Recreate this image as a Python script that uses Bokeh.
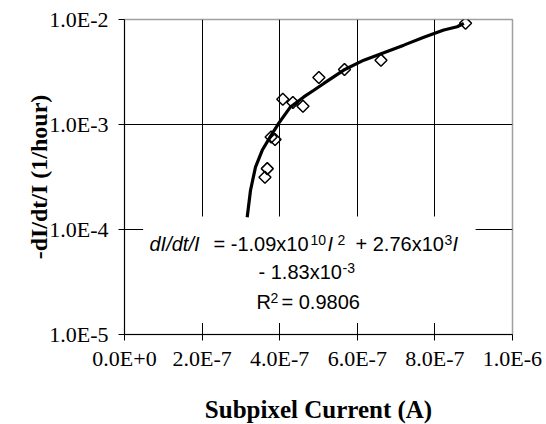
from bokeh.plotting import figure
from bokeh.models import Range1d, FixedTicker, Label
from bokeh.embed import file_html
from bokeh.resources import INLINE

# ---- data ----
x_ticks = [0.0, 2e-7, 4e-7, 6e-7, 8e-7, 1e-6]
x_tick_labels = ["0.0E+0", "2.0E-7", "4.0E-7", "6.0E-7", "8.0E-7", "1.0E-6"]
y_ticks = [1e-5, 1e-4, 1e-3, 1e-2]
y_tick_labels = ["1.0E-5", "1.0E-4", "1.0E-3", "1.0E-2"]

current = [3.62e-7, 3.68e-7, 3.78e-7, 3.88e-7, 4.08e-7, 4.34e-7,
           4.60e-7, 5.01e-7, 5.67e-7, 6.61e-7, 8.79e-7]
rate = [3.15e-4, 3.8e-4, 7.6e-4, 7.2e-4, 1.74e-3, 1.62e-3,
        1.49e-3, 2.8e-3, 3.34e-3, 4.1e-3, 9.2e-3]

fit_current = [3.162e-7, 3.247e-7, 3.376e-7, 3.549e-7, 3.763e-7, 3.977e-7,
               4.278e-7, 4.621e-7, 4.879e-7, 5.137e-7, 5.652e-7, 6.168e-7,
               6.683e-7, 7.199e-7, 7.714e-7, 8.229e-7, 8.575e-7, 8.745e-7]
fit_rate = [1.31e-4, 2.35e-4, 3.93e-4, 5.68e-4, 7.71e-4, 1.03e-3,
            1.47e-3, 1.83e-3, 2.12e-3, 2.46e-3, 3.30e-3, 4.10e-3,
            4.82e-3, 5.70e-3, 6.76e-3, 7.94e-3, 8.53e-3, 9.20e-3]

x_title = "Subpixel Current (A)"
y_title = "-dI/dt/I (1/hour)"

# ---- figure ----
p = figure(frame_width=388, frame_height=315,
           x_range=Range1d(0, 1e-6), y_range=Range1d(1e-5, 1e-2),
           y_axis_type="log", output_backend="svg", toolbar_location=None,
           min_border_left=124, min_border_top=19, min_border_right=34,
           min_border_bottom=90)
p.background_fill_color = "white"
p.border_fill_color = "white"
p.outline_line_color = "#a0a0a0"
p.outline_line_width = 1.5

for ax, ticks, labels in ((p.xaxis[0], x_ticks, x_tick_labels),
                          (p.yaxis[0], y_ticks, y_tick_labels)):
    ax.ticker = FixedTicker(ticks=ticks)
    ax.major_label_overrides = {t: l for t, l in zip(ticks, labels)}
    ax.major_tick_out = 6
    ax.major_tick_in = 0
    ax.minor_tick_out = 0
    ax.minor_tick_in = 0
    ax.axis_line_color = "black"
    ax.major_tick_line_color = "black"
    ax.major_label_text_font = "Liberation Serif"
    ax.major_label_text_font_size = "22px"
    ax.major_label_text_color = "black"
    ax.axis_label_text_font = "Liberation Serif"
    ax.axis_label_text_font_style = "bold"
    ax.axis_label_text_color = "black"

p.xaxis.axis_label = x_title
p.yaxis.axis_label = y_title
p.xaxis.axis_label_text_font_size = "25px"
p.yaxis.axis_label_text_font_size = "24px"
p.xaxis.major_label_standoff = 5
p.xaxis.axis_label_standoff = 22
p.yaxis.major_label_standoff = 10
p.yaxis.axis_label_standoff = -6

p.xgrid.ticker = FixedTicker(ticks=x_ticks[1:-1])
p.ygrid.ticker = FixedTicker(ticks=y_ticks[1:-1])
p.xgrid.grid_line_color = "black"
p.ygrid.grid_line_color = "black"
p.xgrid.grid_line_width = 1
p.ygrid.grid_line_width = 1

# white text box behind the equation (covers grid)
p.quad(left=[4.8e-8], right=[9.05e-7], top=[1.33e-4], bottom=[1.29e-5],
       fill_color="white", line_color=None)

p.line(fit_current, fit_rate, line_color="black", line_width=3.2)
p.scatter(current, rate, marker="square", angle=0.785398, size=8.5,
          fill_color=None, line_color="black", line_width=1.5)

# ---- equation text ----
FONT = "Liberation Sans"
def lab(text, sx, sy, size="20px", style="normal"):
    p.add_layout(Label(x=sx, y=sy, x_units="screen", y_units="screen",
                       text=text, text_font=FONT, text_font_size=size,
                       text_font_style=style, text_color="black",
                       text_baseline="alphabetic", text_align="left"))

lab("dI/dt/I", 25, 91, style="italic")
lab("= -1.09x10", 89, 91)
lab("10", 186, 95, size="14px")
lab("I", 203, 91, style="italic")
lab("2", 213, 95, size="14px")
lab("+ 2.76x10", 231, 91)
lab("3", 320, 95, size="14px")
lab("I", 328, 91, style="italic")

lab("- 1.83x10", 134, 63)
lab("-3", 218, 67, size="14px")

lab("R", 132, 33)
lab("2", 146, 37, size="14px")
lab("= 0.9806", 157, 33)

open("out.html", "w").write(file_html(p, INLINE))
